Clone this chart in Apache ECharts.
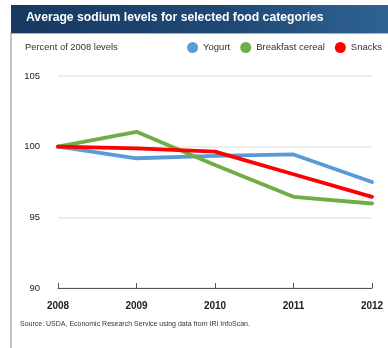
<!DOCTYPE html>
<html>
<head>
<meta charset="utf-8">
<script src="https://cdn.jsdelivr.net/npm/echarts@6/dist/echarts.min.js"></script>
<style>
  html, body { margin: 0; padding: 0; background: #fff; }
  #chart { width: 388px; height: 348px; }
</style>
</head>
<body>
<div id="chart"></div>
<script>
// Sodium levels, indexed to 2008 = 100
const years = ['2008', '2009', '2010', '2011', '2012'];
const yogurt = [100, 99.18, 99.35, 99.45, 97.5];
const breakfastCereal = [100, 101.05, 98.7, 96.45, 95.98];
const snacks = [100, 99.88, 99.65, 98.05, 96.45];
const yTicks = [90, 95, 100, 105];

const colors = { yogurt: '#5b9bd5', cereal: '#70ad47', snacks: '#ff0000' };
const font = '"Liberation Sans", Arial, Helvetica, sans-serif';

const chart = echarts.init(document.getElementById('chart'), null, { renderer: 'canvas' });

function lineSeries(name, data, color) {
  return {
    name, type: 'line', data,
    symbol: 'none',
    lineStyle: { width: 3.8, color, cap: 'round', join: 'round' },
    itemStyle: { color },
    z: 3
  };
}

chart.setOption({
  animation: false,
  textStyle: { fontFamily: font },
  graphic: [
    {
      type: 'rect', left: 11, top: 5,
      shape: { width: 377, height: 28 },
      style: {
        fill: new echarts.graphic.LinearGradient(0, 0, 1, 0, [
          { offset: 0, color: '#173861' },
          { offset: 0.6, color: '#1f4a76' },
          { offset: 1, color: '#2f6393' }
        ])
      }
    },
    {
      type: 'rect', left: 11, top: 33,
      shape: { width: 377, height: 1 },
      style: { fill: '#9fb3c8' }
    },
    {
      type: 'rect', left: 10.5, top: 33,
      shape: { width: 1, height: 315 },
      style: { fill: '#8a8a8a' }
    },
    {
      type: 'text', left: 26, top: 12,
      style: {
        text: 'Average sodium levels for selected food categories',
        fill: '#ffffff', font: 'bold 12.2px ' + font
      }
    },
    {
      type: 'text', left: 25, top: 43,
      style: { text: 'Percent of 2008 levels', fill: '#333333', font: '9.4px ' + font }
    },
    {
      type: 'text', left: 20, top: 321,
      style: {
        text: 'Source: USDA, Economic Research Service using data from IRI InfoScan.',
        fill: '#333333', font: '7px ' + font
      }
    }
  ],
  legend: {
    top: 42, right: 6,
    icon: 'circle', itemWidth: 11, itemHeight: 11, itemGap: 10, padding: 0,
    textStyle: { fontSize: 9.5, color: '#333', fontFamily: font },
    data: ['Yogurt', 'Breakfast cereal', 'Snacks']
  },
  grid: { left: 58, right: 16, top: 76, bottom: 60, containLabel: false },
  xAxis: {
    type: 'category',
    data: years,
    boundaryGap: false,
    axisLine: { lineStyle: { color: '#555', width: 1 } },
    axisTick: { inside: true, length: 5, lineStyle: { color: '#555' } },
    axisLabel: { color: '#222', fontSize: 10, fontWeight: 'bold', margin: 13, fontFamily: font },
    splitLine: { show: false }
  },
  yAxis: {
    type: 'value',
    min: yTicks[0], max: yTicks[yTicks.length - 1], interval: 5,
    axisLine: { show: false },
    axisTick: { show: false },
    axisLabel: { color: '#222', fontSize: 9.5, margin: 18, fontFamily: font },
    splitLine: { lineStyle: { color: '#e6e6e6', width: 1.5 } }
  },
  series: [
    lineSeries('Yogurt', yogurt, colors.yogurt),
    lineSeries('Breakfast cereal', breakfastCereal, colors.cereal),
    lineSeries('Snacks', snacks, colors.snacks)
  ]
});
</script>
</body>
</html>
